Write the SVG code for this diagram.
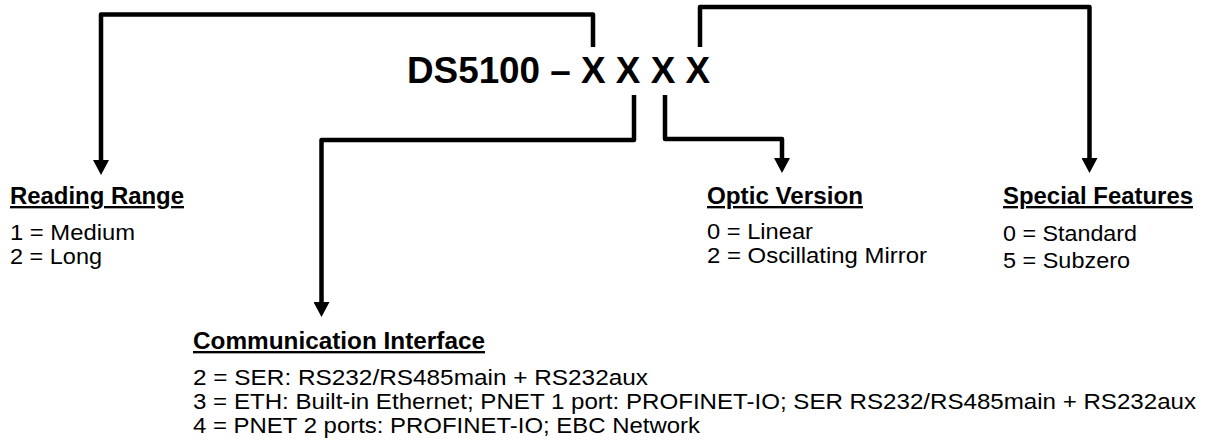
<svg xmlns="http://www.w3.org/2000/svg" width="1208" height="446" viewBox="0 0 1208 446">
<style>
  .t{font-family:"Liberation Sans",Arial,sans-serif;fill:#000}
  .title{font-size:36px;font-weight:bold}
  .h{font-size:23.5px;font-weight:bold;text-decoration:underline}
  .i{font-size:22px}
  .c{fill:none;stroke:#000;stroke-width:4.5;stroke-linejoin:round;stroke-linecap:butt}
</style>
<defs>
  <marker id="arr" markerUnits="userSpaceOnUse" markerWidth="16" markerHeight="16" refX="0" refY="8" orient="auto" viewBox="0 0 15 16">
    <path d="M0,0 L15,8 L0,16 z" fill="#000"/>
  </marker>
</defs>
<g id="title">
  <text class="t title" x="407" y="83" textLength="303" lengthAdjust="spacingAndGlyphs">DS5100 – X X X X</text>
</g>
<g id="connectors">
  <path class="c" d="M593,47 V14.5 H101 V160" marker-end="url(#arr)"/>
  <path class="c" d="M634,95 V140 H321.5 V302" marker-end="url(#arr)"/>
  <path class="c" d="M665,95 V139 H782 V158" marker-end="url(#arr)"/>
  <path class="c" d="M700,47 V7 H1089.5 V158" marker-end="url(#arr)"/>
</g>
<g id="reading-range">
  <text class="t h" x="10" y="204" textLength="174" lengthAdjust="spacingAndGlyphs">Reading Range</text>
  <text class="t i" x="10" y="240" textLength="125" lengthAdjust="spacingAndGlyphs">1 = Medium</text>
  <text class="t i" x="10" y="264" textLength="92" lengthAdjust="spacingAndGlyphs">2 = Long</text>
</g>
<g id="optic-version">
  <text class="t h" x="707" y="204" textLength="156" lengthAdjust="spacingAndGlyphs">Optic Version</text>
  <text class="t i" x="707" y="239" textLength="106" lengthAdjust="spacingAndGlyphs">0 = Linear</text>
  <text class="t i" x="707" y="263" textLength="220" lengthAdjust="spacingAndGlyphs">2 = Oscillating Mirror</text>
</g>
<g id="special-features">
  <text class="t h" x="1003" y="204" textLength="190" lengthAdjust="spacingAndGlyphs">Special Features</text>
  <text class="t i" x="1003" y="241" textLength="134" lengthAdjust="spacingAndGlyphs">0 = Standard</text>
  <text class="t i" x="1003" y="268" textLength="127" lengthAdjust="spacingAndGlyphs">5 = Subzero</text>
</g>
<g id="communication-interface">
  <text class="t h" x="193" y="349" textLength="292" lengthAdjust="spacingAndGlyphs">Communication Interface</text>
  <text class="t i" x="193" y="385" textLength="455" lengthAdjust="spacingAndGlyphs">2 = SER: RS232/RS485main + RS232aux</text>
  <text class="t i" x="193" y="409" textLength="1003" lengthAdjust="spacingAndGlyphs">3 = ETH: Built-in Ethernet; PNET 1 port: PROFINET-IO; SER RS232/RS485main + RS232aux</text>
  <text class="t i" x="193" y="433" textLength="507" lengthAdjust="spacingAndGlyphs">4 = PNET 2 ports: PROFINET-IO; EBC Network</text>
</g>
</svg>
